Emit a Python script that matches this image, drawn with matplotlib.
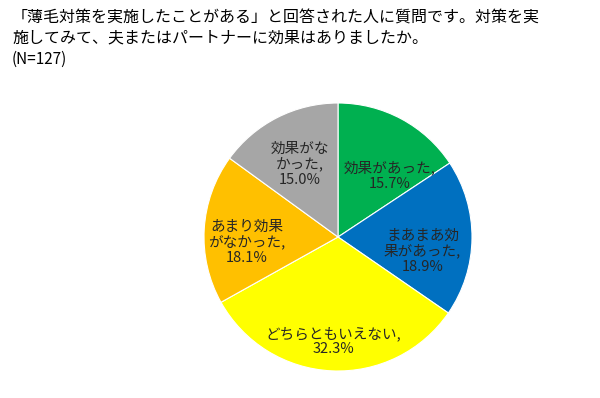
import numpy as np
import matplotlib.pyplot as plt

plt.rcParams['font.family'] = ['Noto Sans CJK JP', 'DejaVu Sans']

# survey answers, clockwise from 12 o'clock
categories = ['効果があった', 'まあまあ効果があった', 'どちらともいえない', 'あまり効果がなかった', '効果がなかった']
label_text = ['効果があった,', 'まあまあ効\n果があった,', 'どちらともいえない,', 'あまり効果\nがなかった,', '効果がな\nかった,']
values = [15.7, 18.9, 32.3, 18.1, 15.0]
colors = ['#00B050', '#0070C0', '#FFFF00', '#FFC000', '#A6A6A6']

title = '「薄毛対策を実施したことがある」と回答された人に質問です。対策を実\n施してみて、夫またはパートナーに効果はありましたか。'
n_text = '(N=127)'

fig = plt.figure(figsize=(6, 3.98), dpi=100)
fig.text(0.02, 0.977, title, fontsize=11.5, va='top', ha='left', linespacing=1.25)
fig.text(0.02, 0.872, n_text, fontsize=11, va='top', ha='left')

# pie centre ~ (338, 237) px, radius ~134 px
cx, cy, r = 338, 237, 134
ax = fig.add_axes([(cx - r) / 600, (398 - cy - r) / 398, 2 * r / 600, 2 * r / 398])
wedges, _ = ax.pie(values, colors=colors, startangle=90, counterclock=False,
                   wedgeprops=dict(edgecolor='white', linewidth=0.8))

# label placement tweaks (radius fraction, angle offset in degrees)
lab_r = [0.60, 0.64, 0.78, 0.68, 0.61]
lab_da = [-12, -9, 0, 7, 1]
for w, txt, v, lr, da in zip(wedges, label_text, values, lab_r, lab_da):
    ang = np.deg2rad((w.theta1 + w.theta2) / 2 + da)
    ax.text(lr * np.cos(ang), lr * np.sin(ang), f'{txt}\n{v:.1f}%',
            ha='center', va='center', fontsize=10.5, color='#262626', linespacing=1.1)

ax.set_xlim(-1, 1)
ax.set_ylim(-1, 1)
ax.set_aspect('equal')
ax.axis('off')

fig.savefig('out.png', dpi=100)
